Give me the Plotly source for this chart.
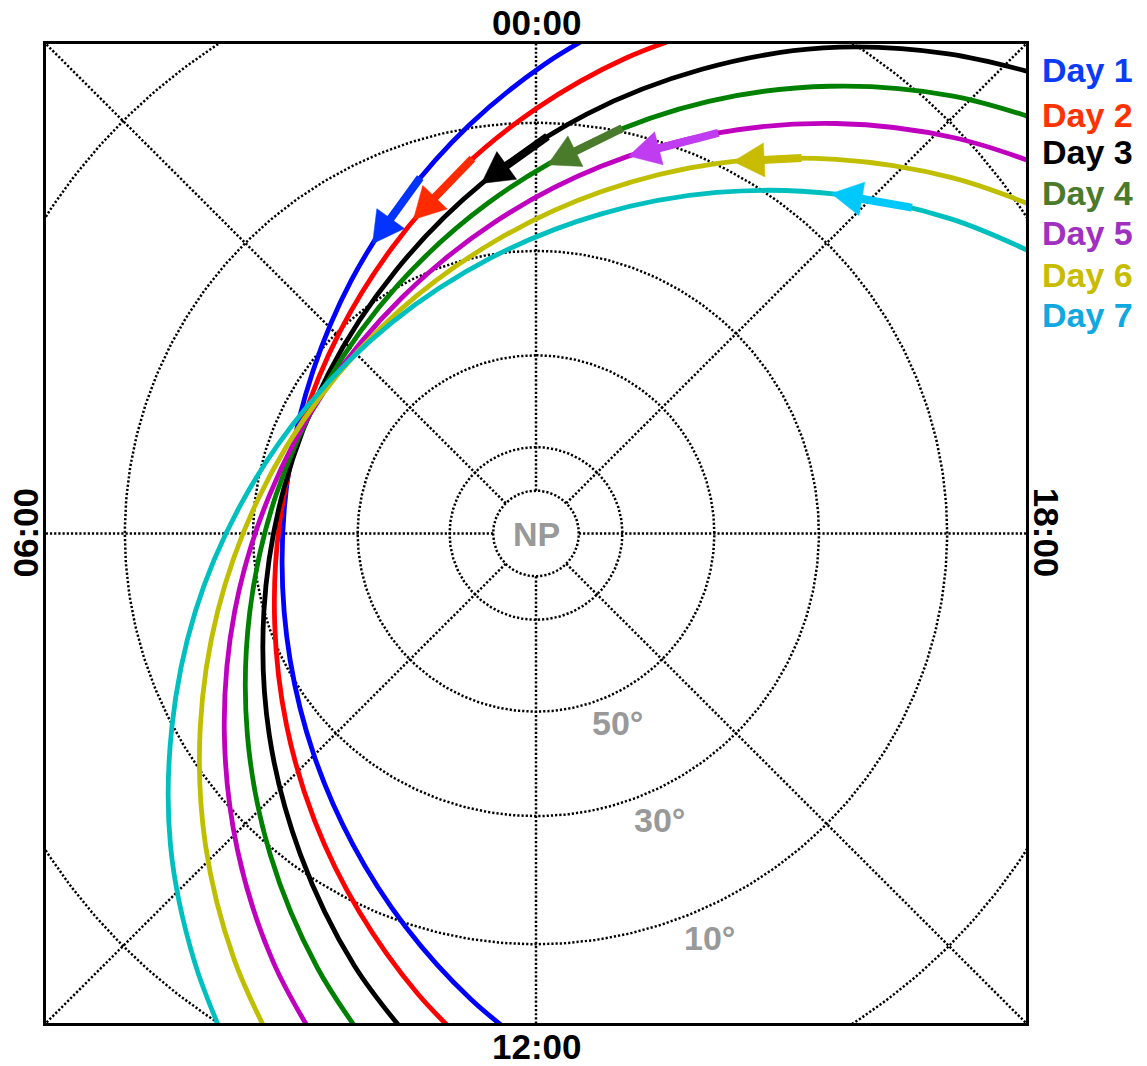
import numpy as np
import plotly.graph_objects as go

# ---------------- data (local time in hours, latitude in degrees) ----------------
days = ["Day 1", "Day 2", "Day 3", "Day 4", "Day 5", "Day 6", "Day 7"]

day1_lt = [23.32, 23.93, 0.62, 1.43, 2.41, 3.59, 4.97, 6.44, 7.82, 9.0, 9.97, 10.78, 11.47, 12.08]
day1_lat = [-4.2, 2.4, 9.6, 17.3, 24.8, 31.2, 34.9, 34.9, 31.1, 24.7, 17.2, 9.5, 2.3, -4.2]
day2_lt = [22.68, 23.29, 23.99, 0.8, 1.77, 2.96, 4.35, 5.86, 7.28, 8.5, 9.5, 10.33, 11.04, 11.66]
day2_lat = [-5.7, 0.7, 8.0, 15.8, 23.6, 30.3, 34.4, 34.7, 31.1, 24.6, 16.9, 9.1, 1.7, -4.9]
day3_lt = [20.69, 21.29, 21.96, 22.69, 23.54, 0.57, 1.86, 3.49, 5.33, 7.06, 8.47, 9.58, 10.48, 11.25]
day3_lat = [-19.8, -14.5, -8.1, -0.4, 8.4, 18.1, 27.3, 33.7, 34.8, 30.0, 21.4, 11.8, 2.5, -5.6]
day4_lt = [20.48, 21.1, 21.78, 22.55, 23.45, 0.55, 1.93, 3.62, 5.43, 7.04, 8.33, 9.36, 10.22, 10.95]
day4_lat = [-17.5, -11.9, -5.1, 2.9, 12.0, 21.4, 29.7, 34.5, 33.6, 27.5, 18.6, 9.2, 0.4, -7.2]
day5_lt = [20.26, 20.89, 21.59, 22.38, 23.33, 0.5, 1.97, 3.71, 5.46, 6.96, 8.15, 9.11, 9.91, 10.61]
day5_lat = [-15.3, -9.3, -2.1, 6.2, 15.4, 24.6, 32.0, 35.0, 32.4, 25.2, 16.1, 6.8, -1.6, -8.8]
day6_lt = [20.06, 20.7, 21.42, 22.26, 23.27, 0.53, 2.1, 3.86, 5.53, 6.91, 8.0, 8.89, 9.65, 10.32]
day6_lat = [-12.9, -6.4, 1.2, 9.8, 19.1, 27.8, 33.8, 34.9, 30.5, 22.5, 13.3, 4.3, -3.7, -10.6]
day7_lt = [19.81, 20.48, 21.24, 22.14, 23.24, 0.62, 2.29, 4.05, 5.61, 6.86, 7.87, 8.7, 9.43, 10.07]
day7_lat = [-10.4, -3.5, 4.5, 13.5, 22.7, 30.6, 34.9, 33.8, 27.7, 19.0, 9.8, 1.1, -6.4, -12.9]

# direction arrows (tail -> tip) on each track
arrow_tail_lt = [1.2, 0.64, 23.89, 23.2, 22.37, 21.65, 20.73]
arrow_tail_lat = [15.2, 14.3, 11.9, 9.5, 6.1, 3.6, -0.9]
arrow_tip_lt = [1.96, 1.42, 0.59, 23.88, 23.08, 22.14, 21.27]
arrow_tip_lat = [21.6, 20.9, 18.2, 16.0, 13.1, 8.6, 4.8]

# grid
grid_lats = [80, 70, 50, 30, 10, -10]
grid_lts = [0, 3, 6, 9, 12, 15, 18, 21]
lat_labels = ["50°", "30°", "10°"]
lat_label_lt = [13.55, 13.55, 13.55]
lat_label_lat = [44.4, 25.0, 6.1]
lt_tick_labels = ["00:00", "06:00", "12:00", "18:00"]

all_lt = [day1_lt, day2_lt, day3_lt, day4_lt, day5_lt, day6_lt, day7_lt]
all_lat = [day1_lat, day2_lat, day3_lat, day4_lat, day5_lat, day6_lat, day7_lat]

# ---------------- styles ----------------
line_colors = ['#0000ff', '#ff0000', '#000000', '#008000', '#bf00bf', '#bfbf00', '#00bfbf']
arrow_colors = ['#0433ff', '#ff2a00', '#000000', '#4a7b2b', '#c03cf0', '#c8bc00', '#00c8fa']
legend_colors = ['#0a3cf5', '#ff3300', '#000000', '#4a7a2a', '#a030c0', '#c8bc00', '#10a8e0']
FONT_FAMILY = "Liberation Sans, Arial, Helvetica, sans-serif"
GRAY = '#999999'


def proj(lt, lat):
    """North-polar stereographic projection; 00 LT up, 06 LT left."""
    lt = np.asarray(lt, float)
    lat = np.asarray(lat, float)
    r = np.tan(np.radians(90.0 - lat) / 2.0)
    ph = np.radians(lt * 15.0)
    return -r * np.sin(ph), r * np.cos(ph)


fig = go.Figure()
dot = dict(color='black', width=2.5, dash='2.2px,2px')

ltf = np.linspace(0, 24, 481)
for la in grid_lats:
    x, y = proj(ltf, np.full_like(ltf, la))
    fig.add_trace(go.Scatter(x=x, y=y, mode='lines', line=dot, hoverinfo='skip'))
for m in grid_lts:
    x, y = proj([m, m], [80, -60])
    fig.add_trace(go.Scatter(x=x, y=y, mode='lines', line=dot, hoverinfo='skip'))

PX = 1.0 / 490.0  # one pixel in data units
HEAD_L = 31 * PX
HEAD_W = 17 * PX
for i in range(7):
    x, y = proj(all_lt[i], all_lat[i])
    fig.add_trace(go.Scatter(x=x, y=y, mode='lines', name=days[i],
                             line=dict(color=line_colors[i], width=4.8, shape='spline', smoothing=1.0)))
    x0, y0 = proj(arrow_tail_lt[i], arrow_tail_lat[i])
    x1, y1 = proj(arrow_tip_lt[i], arrow_tip_lat[i])
    dx, dy = float(x1 - x0), float(y1 - y0)
    d = np.hypot(dx, dy)
    ux, uy = dx / d, dy / d
    bx, by = float(x1) - HEAD_L * ux, float(y1) - HEAD_L * uy
    fig.add_trace(go.Scatter(x=[float(x0), bx + 2 * PX * ux], y=[float(y0), by + 2 * PX * uy], mode='lines',
                             line=dict(color=arrow_colors[i], width=8), hoverinfo='skip'))
    fig.add_trace(go.Scatter(x=[float(x1), bx - HEAD_W * uy, bx + HEAD_W * uy, float(x1)],
                             y=[float(y1), by + HEAD_W * ux, by - HEAD_W * ux, float(y1)],
                             mode='lines', fill='toself', fillcolor=arrow_colors[i],
                             line=dict(color=arrow_colors[i], width=0.5), hoverinfo='skip'))

# ---------------- layout ----------------
L, R, T, B = 46, 121, 44, 43
W, H = 1147, 1066
pw, ph = W - L - R, H - T - B


def paper(px, py):
    return (px - L) / pw, (H - B - py) / ph


ann = []
# local time labels
for txt, (px, py), ang in zip(lt_tick_labels, [(536.5, 22.5), (25, 532.5), (536.5, 1046.5), (1046.7, 532.5)],
                              [0, -90, 0, 90]):
    xp, yp = paper(px, py)
    ann.append(dict(x=xp, y=yp, xref='paper', yref='paper', text=txt, showarrow=False, textangle=ang,
                    xanchor='center', yanchor='middle',
                    font=dict(family=FONT_FAMILY, size=35, color='black', weight='bold')))
# pole label
ann.append(dict(x=0, y=0, xref='x', yref='y', text="NP", showarrow=False, xanchor='center', yanchor='middle',
                font=dict(family=FONT_FAMILY, size=34, color=GRAY, weight='bold')))
# latitude labels
for txt, lt, la in zip(lat_labels, lat_label_lt, lat_label_lat):
    x, y = proj(lt, la)
    ann.append(dict(x=float(x), y=float(y), xref='x', yref='y', text=txt, showarrow=False,
                    xanchor='center', yanchor='middle',
                    font=dict(family=FONT_FAMILY, size=34, color=GRAY, weight='bold')))
# legend (coloured text)
for i, name in enumerate(days):
    xp, yp = paper(1040, [70, 115, 152, 193, 233, 275, 315][i])
    ann.append(dict(x=xp, y=yp, xref='paper', yref='paper', text=name, showarrow=False,
                    xanchor='left', yanchor='middle',
                    font=dict(family=FONT_FAMILY, size=34, color=legend_colors[i], weight='bold')))

fig.update_layout(width=W, height=H, margin=dict(l=L, r=R, t=T, b=B), showlegend=False,
                  plot_bgcolor='white', paper_bgcolor='white', annotations=ann)
axis = dict(range=[-1, 1], showgrid=False, zeroline=False, showticklabels=False, ticks='',
            showline=True, mirror=True, linecolor='black', linewidth=2.5, fixedrange=True)
fig.update_xaxes(**axis)
fig.update_yaxes(**axis)

fig.write_html("out.html")
